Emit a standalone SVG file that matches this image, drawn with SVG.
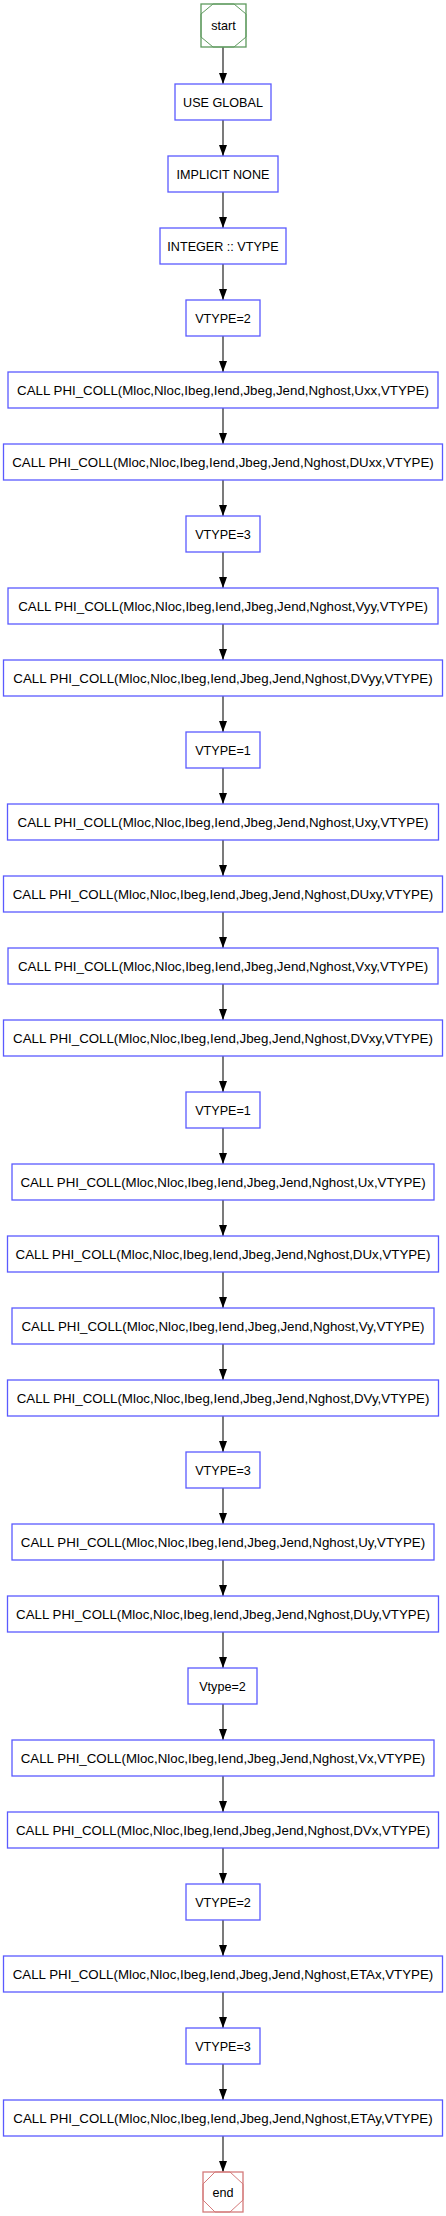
<svg xmlns="http://www.w3.org/2000/svg" width="446" height="2216" viewBox="0 0 446 2216">
<style>
.bg{fill:#ffffff}
.box{fill:#ffffff;stroke:#5a5aff;stroke-width:1.3}
.t{font-family:"Liberation Sans",Arial,Helvetica,sans-serif;font-size:12.6px;fill:#000;text-anchor:middle}
.c{font-size:13.3px}
.start{fill:#fff;stroke:#5e9a5e;stroke-width:1.3}
.startin{fill:none;stroke:#5e9a5e;stroke-width:1}
.end{fill:#fff;stroke:#d47a7a;stroke-width:1.3}
.endin{fill:none;stroke:#d47a7a;stroke-width:1}
.e{stroke:#333;stroke-width:1.3;fill:none;marker-end:url(#ah)}
</style>
<defs>
<marker id="ah" markerUnits="userSpaceOnUse" markerWidth="11" markerHeight="8" refX="11" refY="4" orient="auto">
<path d="M0,0 L11,4 L0,8 z" fill="#000"/>
</marker>
</defs>
<rect class="bg" x="0" y="0" width="446" height="2216"/>
<g id="connectors">
<path class="e" d="M223,47 V84"/>
<path class="e" d="M223,120 V156"/>
<path class="e" d="M223,192 V228"/>
<path class="e" d="M223,264 V300"/>
<path class="e" d="M223,336 V372"/>
<path class="e" d="M223,408 V444"/>
<path class="e" d="M223,480 V516"/>
<path class="e" d="M223,552 V588"/>
<path class="e" d="M223,624 V660"/>
<path class="e" d="M223,696 V732"/>
<path class="e" d="M223,768 V804"/>
<path class="e" d="M223,840 V876"/>
<path class="e" d="M223,912 V948"/>
<path class="e" d="M223,984 V1020"/>
<path class="e" d="M223,1056 V1092"/>
<path class="e" d="M223,1128 V1164"/>
<path class="e" d="M223,1200 V1236"/>
<path class="e" d="M223,1272 V1308"/>
<path class="e" d="M223,1344 V1380"/>
<path class="e" d="M223,1416 V1452"/>
<path class="e" d="M223,1488 V1524"/>
<path class="e" d="M223,1560 V1596"/>
<path class="e" d="M223,1632 V1668"/>
<path class="e" d="M223,1704 V1740"/>
<path class="e" d="M223,1776 V1812"/>
<path class="e" d="M223,1848 V1884"/>
<path class="e" d="M223,1920 V1956"/>
<path class="e" d="M223,1992 V2028"/>
<path class="e" d="M223,2064 V2100"/>
<path class="e" d="M223,2136 V2172"/>
</g>
<g id="n0">
<rect class="start" x="201" y="4" width="45" height="43"/>
<polygon class="startin" points="213,4 234,4 246,14 246,37 234,47 213,47 201,37 201,14"/>
<text class="t" x="223.5" y="30">start</text>
</g>
<g id="n1"><rect class="box" x="175" y="84" width="96" height="36"/><text class="t" x="223" y="106.5">USE GLOBAL</text></g>
<g id="n2"><rect class="box" x="168" y="156" width="110" height="36"/><text class="t" x="223" y="178.5">IMPLICIT NONE</text></g>
<g id="n3"><rect class="box" x="160" y="228" width="126" height="36"/><text class="t" x="223" y="250.5">INTEGER :: VTYPE</text></g>
<g id="n4"><rect class="box" x="186" y="300" width="74" height="36"/><text class="t" x="223" y="322.5">VTYPE=2</text></g>
<g id="n5"><rect class="box" x="8" y="372" width="430" height="36"/><text class="t c" x="223" y="394.5">CALL PHI_COLL(Mloc,Nloc,Ibeg,Iend,Jbeg,Jend,Nghost,Uxx,VTYPE)</text></g>
<g id="n6"><rect class="box" x="3.5" y="444" width="439" height="36"/><text class="t c" x="223" y="466.5">CALL PHI_COLL(Mloc,Nloc,Ibeg,Iend,Jbeg,Jend,Nghost,DUxx,VTYPE)</text></g>
<g id="n7"><rect class="box" x="186" y="516" width="74" height="36"/><text class="t" x="223" y="538.5">VTYPE=3</text></g>
<g id="n8"><rect class="box" x="8" y="588" width="430" height="36"/><text class="t c" x="223" y="610.5">CALL PHI_COLL(Mloc,Nloc,Ibeg,Iend,Jbeg,Jend,Nghost,Vyy,VTYPE)</text></g>
<g id="n9"><rect class="box" x="3.5" y="660" width="439" height="36"/><text class="t c" x="223" y="682.5">CALL PHI_COLL(Mloc,Nloc,Ibeg,Iend,Jbeg,Jend,Nghost,DVyy,VTYPE)</text></g>
<g id="n10"><rect class="box" x="186" y="732" width="74" height="36"/><text class="t" x="223" y="754.5">VTYPE=1</text></g>
<g id="n11"><rect class="box" x="7.5" y="804" width="431" height="36"/><text class="t c" x="223" y="826.5">CALL PHI_COLL(Mloc,Nloc,Ibeg,Iend,Jbeg,Jend,Nghost,Uxy,VTYPE)</text></g>
<g id="n12"><rect class="box" x="3.5" y="876" width="439" height="36"/><text class="t c" x="223" y="898.5">CALL PHI_COLL(Mloc,Nloc,Ibeg,Iend,Jbeg,Jend,Nghost,DUxy,VTYPE)</text></g>
<g id="n13"><rect class="box" x="8" y="948" width="430" height="36"/><text class="t c" x="223" y="970.5">CALL PHI_COLL(Mloc,Nloc,Ibeg,Iend,Jbeg,Jend,Nghost,Vxy,VTYPE)</text></g>
<g id="n14"><rect class="box" x="3.5" y="1020" width="439" height="36"/><text class="t c" x="223" y="1042.5">CALL PHI_COLL(Mloc,Nloc,Ibeg,Iend,Jbeg,Jend,Nghost,DVxy,VTYPE)</text></g>
<g id="n15"><rect class="box" x="186" y="1092" width="74" height="36"/><text class="t" x="223" y="1114.5">VTYPE=1</text></g>
<g id="n16"><rect class="box" x="12" y="1164" width="422" height="36"/><text class="t c" x="223" y="1186.5">CALL PHI_COLL(Mloc,Nloc,Ibeg,Iend,Jbeg,Jend,Nghost,Ux,VTYPE)</text></g>
<g id="n17"><rect class="box" x="7.5" y="1236" width="431" height="36"/><text class="t c" x="223" y="1258.5">CALL PHI_COLL(Mloc,Nloc,Ibeg,Iend,Jbeg,Jend,Nghost,DUx,VTYPE)</text></g>
<g id="n18"><rect class="box" x="12" y="1308" width="422" height="36"/><text class="t c" x="223" y="1330.5">CALL PHI_COLL(Mloc,Nloc,Ibeg,Iend,Jbeg,Jend,Nghost,Vy,VTYPE)</text></g>
<g id="n19"><rect class="box" x="7.5" y="1380" width="431" height="36"/><text class="t c" x="223" y="1402.5">CALL PHI_COLL(Mloc,Nloc,Ibeg,Iend,Jbeg,Jend,Nghost,DVy,VTYPE)</text></g>
<g id="n20"><rect class="box" x="186" y="1452" width="74" height="36"/><text class="t" x="223" y="1474.5">VTYPE=3</text></g>
<g id="n21"><rect class="box" x="12" y="1524" width="422" height="36"/><text class="t c" x="223" y="1546.5">CALL PHI_COLL(Mloc,Nloc,Ibeg,Iend,Jbeg,Jend,Nghost,Uy,VTYPE)</text></g>
<g id="n22"><rect class="box" x="7.5" y="1596" width="431" height="36"/><text class="t c" x="223" y="1618.5">CALL PHI_COLL(Mloc,Nloc,Ibeg,Iend,Jbeg,Jend,Nghost,DUy,VTYPE)</text></g>
<g id="n23"><rect class="box" x="188" y="1668" width="69" height="36"/><text class="t" x="222.5" y="1690.5">Vtype=2</text></g>
<g id="n24"><rect class="box" x="12" y="1740" width="422" height="36"/><text class="t c" x="223" y="1762.5">CALL PHI_COLL(Mloc,Nloc,Ibeg,Iend,Jbeg,Jend,Nghost,Vx,VTYPE)</text></g>
<g id="n25"><rect class="box" x="7.5" y="1812" width="431" height="36"/><text class="t c" x="223" y="1834.5">CALL PHI_COLL(Mloc,Nloc,Ibeg,Iend,Jbeg,Jend,Nghost,DVx,VTYPE)</text></g>
<g id="n26"><rect class="box" x="186" y="1884" width="74" height="36"/><text class="t" x="223" y="1906.5">VTYPE=2</text></g>
<g id="n27"><rect class="box" x="3.5" y="1956" width="439" height="36"/><text class="t c" x="223" y="1978.5">CALL PHI_COLL(Mloc,Nloc,Ibeg,Iend,Jbeg,Jend,Nghost,ETAx,VTYPE)</text></g>
<g id="n28"><rect class="box" x="186" y="2028" width="74" height="36"/><text class="t" x="223" y="2050.5">VTYPE=3</text></g>
<g id="n29"><rect class="box" x="3.5" y="2100" width="439" height="36"/><text class="t c" x="223" y="2122.5">CALL PHI_COLL(Mloc,Nloc,Ibeg,Iend,Jbeg,Jend,Nghost,ETAy,VTYPE)</text></g>
<g id="n30">
<rect class="end" x="203" y="2172" width="40" height="40"/>
<polygon class="endin" points="215,2172 230,2172 243,2184 243,2200 230,2212 215,2212 203,2200 203,2184"/>
<text class="t" x="223" y="2196.5">end</text>
</g>
</svg>
